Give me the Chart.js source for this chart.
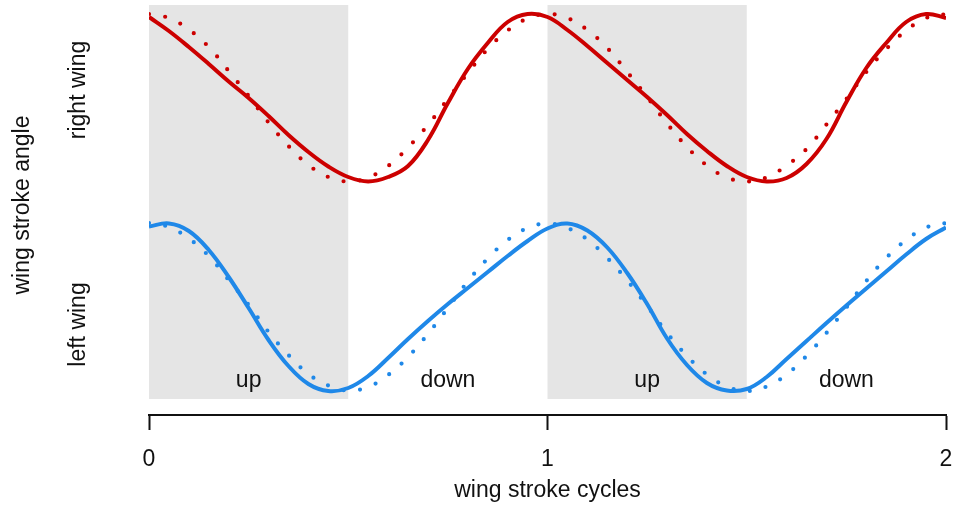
<!DOCTYPE html>
<html>
<head>
<meta charset="utf-8">
<script src="https://cdn.jsdelivr.net/npm/chart.js@4/dist/chart.umd.min.js"></script>
<style>
  body { margin: 0; background: #fff; }
</style>
</head>
<body>
<canvas id="myChart" width="956" height="506"></canvas>
<script>
// time in wing stroke cycles
var cycles = [0, 0.05, 0.1, 0.15, 0.2, 0.25, 0.3, 0.35, 0.4, 0.45, 0.5,
    0.55, 0.6, 0.65, 0.7, 0.75, 0.8, 0.85, 0.9, 0.95, 1,
    1.05, 1.1, 1.15, 1.2, 1.25, 1.3, 1.35, 1.4, 1.45, 1.5,
    1.55, 1.6, 1.65, 1.7, 1.75, 1.8, 1.85, 1.9, 1.95, 2];

// stroke angle (arbitrary units, 0 = bottom of shaded band)
var rightMeasured = [382, 368, 352, 335, 317.5, 301, 283, 264, 247, 232.5, 222,
    217.5, 222, 233, 259, 296, 330, 356, 377, 385, 382,
    369, 353, 336, 319, 302, 284, 265, 248, 233, 222,
    217.5, 221, 235, 260, 297, 331, 356, 377, 385, 381];
var rightModel = [385, 381, 369.5, 352, 328, 303, 276.5, 253, 234, 222, 217.5,
    221.5, 233, 251.5, 274, 300, 326, 350, 368.5, 380.5, 385,
    381, 369, 351, 327, 302, 275.5, 252, 233.5, 221.5, 217.5,
    221.5, 233.5, 250, 274.5, 300, 327, 350, 368.5, 381, 385];
var leftMeasured = [172.5, 175.5, 168, 149, 122, 91, 59, 33, 15, 8, 11,
    23, 41, 60, 78, 95, 111, 127, 143, 158, 170.5,
    175.5, 168.5, 151.5, 126, 95, 60.5, 34, 16, 8.5, 10,
    22, 40, 58, 76, 93.5, 110.5, 127.5, 144.5, 160, 171.5];
var leftModel = [176, 172, 160.5, 143, 119, 94, 67, 44, 25, 13.5, 8.5,
    12, 24, 42, 65, 91, 117.5, 140.5, 159, 171, 175.5,
    171, 159.5, 141, 118.5, 93, 66, 43, 24.5, 12.5, 8,
    12.5, 24.5, 43, 66, 91.5, 118, 141, 159, 171.5, 176];

// shaded upstroke phases and phase labels
var shadeStart = [0, 1];
var shadeEnd = [0.5, 1.5];
var bandLow = 0;
var bandHigh = 394;
var phaseNames = ['up', 'down', 'up', 'down'];
var phaseAt = [0.25, 0.75, 1.25, 1.75];
var phaseLabelY = 12;

// side labels
var sideTitle = 'wing stroke angle';
var sideTitleY = 194;
var wingNames = ['right wing', 'left wing'];
var wingNameY = [309, 74.5];

var red = '#cc0000';
var blue = '#1f88e8';
var font = '23px "Liberation Sans", Arial, Helvetica, sans-serif';

function toPoints(vals) {
    var pts = [];
    for (var i = 0; i < cycles.length; i++) {
        pts.push({x: cycles[i], y: vals[i]});
    }
    return pts;
}

var shading = {
    id: 'shading',
    beforeDatasetsDraw: function (chart) {
        var ctx = chart.ctx;
        var xs = chart.scales.x;
        var ys = chart.scales.y;
        ctx.save();
        ctx.fillStyle = '#e5e5e5';
        var top = ys.getPixelForValue(bandHigh);
        var bottom = ys.getPixelForValue(bandLow);
        for (var i = 0; i < shadeStart.length; i++) {
            var l = xs.getPixelForValue(shadeStart[i]);
            var r = xs.getPixelForValue(shadeEnd[i]);
            ctx.fillRect(l, top, r - l, bottom - top);
        }
        ctx.restore();
    },
    afterDatasetsDraw: function (chart) {
        var ctx = chart.ctx;
        var xs = chart.scales.x;
        var ys = chart.scales.y;
        ctx.save();
        ctx.font = font;
        ctx.fillStyle = '#111';
        ctx.textAlign = 'center';
        ctx.textBaseline = 'alphabetic';
        for (var i = 0; i < phaseNames.length; i++) {
            ctx.fillText(phaseNames[i], xs.getPixelForValue(phaseAt[i]), ys.getPixelForValue(phaseLabelY));
        }
        ctx.textBaseline = 'middle';
        var rot = function (text, x, y) {
            ctx.save();
            ctx.translate(x, y);
            ctx.rotate(-Math.PI / 2);
            ctx.fillText(text, 0, 0);
            ctx.restore();
        };
        rot(sideTitle, 23, ys.getPixelForValue(sideTitleY));
        for (var j = 0; j < wingNames.length; j++) {
            rot(wingNames[j], 79, ys.getPixelForValue(wingNameY[j]));
        }
        ctx.restore();
    }
};

var ctx = document.getElementById('myChart');
var chart = new Chart(ctx, {
    type: 'line',
    data: {
        datasets: [{
            label: 'right wing model',
            data: toPoints(rightModel),
            borderColor: red,
            borderWidth: 4.2,
            borderDash: [0, 16.5],
            borderCapStyle: 'round'
        }, {
            label: 'right wing',
            data: toPoints(rightMeasured),
            borderColor: red,
            borderWidth: 4
        }, {
            label: 'left wing model',
            data: toPoints(leftModel),
            borderColor: blue,
            borderWidth: 4.2,
            borderDash: [0, 16.5],
            borderCapStyle: 'round'
        }, {
            label: 'left wing',
            data: toPoints(leftMeasured),
            borderColor: blue,
            borderWidth: 4
        }]
    },
    options: {
        responsive: false,
        animation: false,
        devicePixelRatio: 1,
        elements: {
            point: { radius: 0 },
            line: { tension: 0.4, fill: false }
        },
        layout: {
            padding: { left: 149, right: 10, top: 5, bottom: 0 }
        },
        plugins: {
            legend: { display: false },
            tooltip: { enabled: false }
        },
        scales: {
            x: {
                type: 'linear',
                min: 0,
                max: 2,
                afterFit: function (scale) {
                    scale.height = 91;
                    scale.paddingLeft = 0;
                    scale.paddingRight = 0;
                },
                ticks: {
                    stepSize: 1,
                    padding: 16,
                    color: '#111',
                    font: { family: '"Liberation Sans", Arial, sans-serif', size: 23 }
                },
                grid: {
                    display: true,
                    drawOnChartArea: false,
                    drawTicks: true,
                    tickLength: 15,
                    tickWidth: 2,
                    tickColor: '#111'
                },
                border: { display: true, color: '#111', width: 2 },
                title: {
                    display: true,
                    text: 'wing stroke cycles',
                    color: '#111',
                    padding: { top: 0, bottom: 2 },
                    font: { family: '"Liberation Sans", Arial, sans-serif', size: 23 }
                }
            },
            y: {
                display: false,
                min: -16,
                max: 394
            }
        }
    },
    plugins: [shading]
});
</script>
</body>
</html>
